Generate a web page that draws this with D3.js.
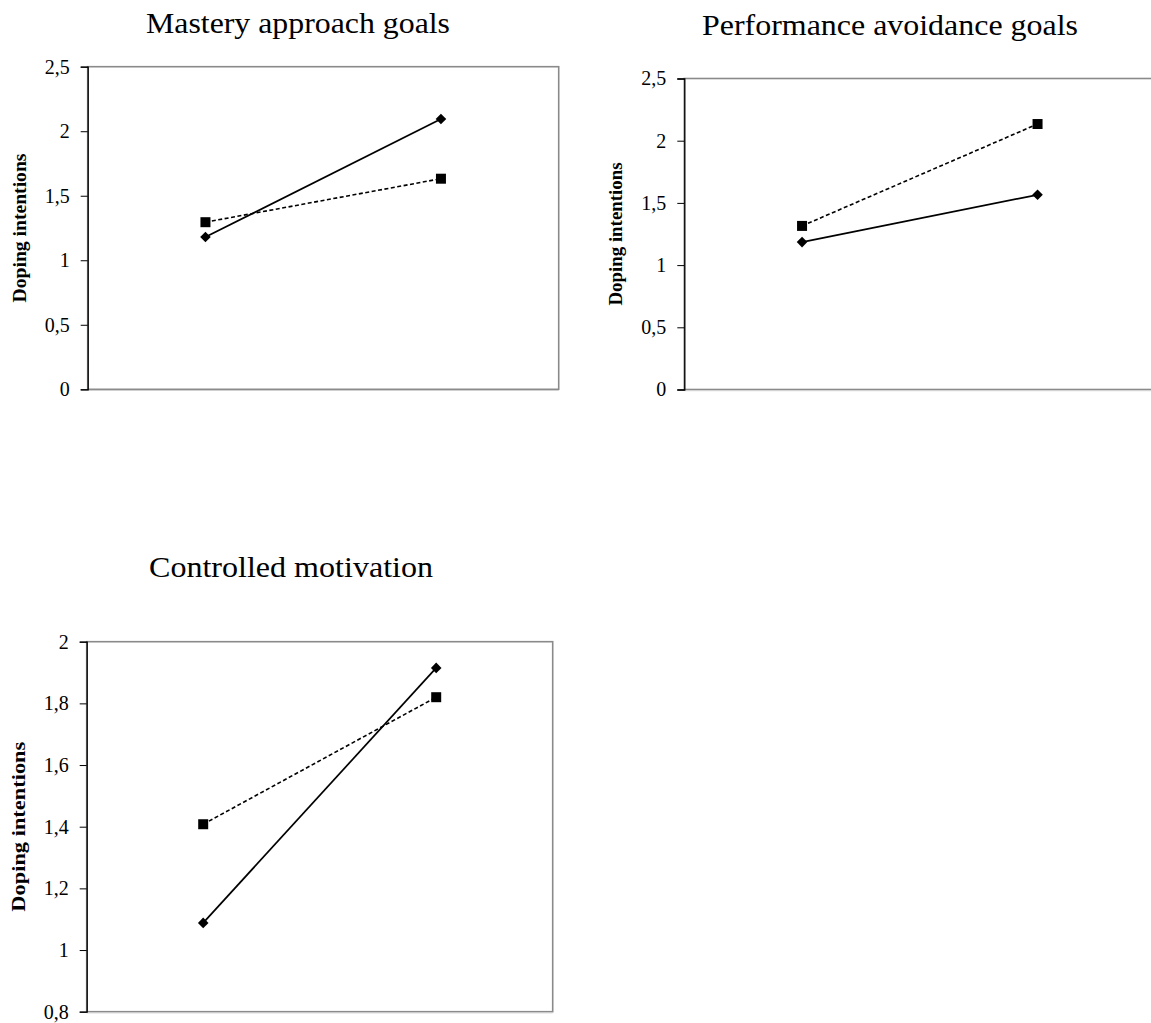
<!DOCTYPE html>
<html><head><meta charset="utf-8">
<script src="https://cdn.jsdelivr.net/npm/d3@7"></script>
<style>
body{margin:0;background:#fff;}
svg text{font-family:"Liberation Serif","Times New Roman",serif;fill:#000;}
</style></head>
<body><svg id="c" width="1151" height="1023"></svg>
<script>
// ---- data ----
const categories = ["Low", "High"];
const titles = ["Mastery approach goals", "Performance avoidance goals", "Controlled motivation"];
const yAxisLabel = "Doping intentions";
const solidSeries1 = [1.18, 2.095];   // diamonds, solid line
const dashedSeries1 = [1.295, 1.632]; // squares, dashed line
const solidSeries2 = [1.185, 1.565];
const dashedSeries2 = [1.315, 2.134];
const solidSeries3 = [1.088, 1.915];
const dashedSeries3 = [1.408, 1.82];
const yDomain1 = [0, 2.5], yTicks1 = [0, 0.5, 1, 1.5, 2, 2.5];
const yDomain2 = [0, 2.5], yTicks2 = [0, 0.5, 1, 1.5, 2, 2.5];
const yDomain3 = [0.8, 2], yTicks3 = [0.8, 1, 1.2, 1.4, 1.6, 1.8, 2];

// ---- layout ----
const panels = [
  {title:titles[0], solid:solidSeries1, dashed:dashedSeries1, domain:yDomain1, ticks:yTicks1,
   left:87.7, top:66.7, w:471, h:322.6, titleX:298, titleY:33, titleLen:304, yLabLen:149},
  {title:titles[1], solid:solidSeries2, dashed:dashedSeries2, domain:yDomain2, ticks:yTicks2,
   left:684.3, top:78.5, w:471, h:311, titleX:890, titleY:35, titleLen:376, yLabLen:143},
  {title:titles[2], solid:solidSeries3, dashed:dashedSeries3, domain:yDomain3, ticks:yTicks3,
   left:86.7, top:641.7, w:466, h:370, titleX:291, titleY:577, titleLen:284, yLabLen:170}
];

const loc = d3.formatLocale({decimal:",", thousands:".", grouping:[3], currency:["","€"]});
const fmt = loc.format("~g");
const svg = d3.select("#c");

panels.forEach(p => {
  const g = svg.append("g").attr("transform", `translate(${p.left},${p.top})`);
  const x = d3.scaleBand().domain(categories).range([0, p.w]);
  const y = d3.scaleLinear().domain(p.domain).range([p.h, 0]);

  // plot border
  g.append("rect").attr("x",0).attr("y",0).attr("width",p.w).attr("height",p.h)
    .attr("fill","none").attr("stroke","#8a8a8a").attr("stroke-width",1.6);
  g.append("line").attr("x1",0).attr("x2",p.w).attr("y1",p.h+1.2).attr("y2",p.h+1.2)
    .attr("stroke","#d0d0d0").attr("stroke-width",1);

  // y axis
  const ax = g.append("g").call(d3.axisLeft(y).tickValues(p.ticks).tickFormat(fmt).tickSize(7).tickPadding(11));
  ax.select(".domain").attr("stroke","#000").attr("stroke-width",1.3);
  ax.selectAll(".tick line").attr("stroke","#000");
  ax.selectAll("text").style("font-size","20px").style("font-family",'"Liberation Serif",serif').attr("fill","#1a1a1a");

  // axis title
  g.append("text")
    .attr("transform", `translate(${-62},${p.h/2}) rotate(-90)`)
    .attr("text-anchor","middle")
    .attr("textLength", p.yLabLen).attr("lengthAdjust","spacingAndGlyphs")
    .style("font-size","19px").style("font-weight","bold")
    .text(yAxisLabel);

  // panel title
  svg.append("text").attr("x", p.titleX).attr("y", p.titleY).attr("text-anchor","middle")
    .attr("textLength", p.titleLen).attr("lengthAdjust","spacingAndGlyphs")
    .style("font-size","30px").text(p.title);

  const cx = c => x(c) + x.bandwidth()/2;
  const line = d3.line().x((d,i) => cx(categories[i])).y(d => y(d));

  g.append("path").datum(p.dashed).attr("d", line).attr("fill","none")
    .attr("stroke","#000").attr("stroke-width",1.6).attr("stroke-dasharray","4,2.5");
  g.append("path").datum(p.solid).attr("d", line).attr("fill","none")
    .attr("stroke","#000").attr("stroke-width",1.7);

  g.selectAll(".sq").data(p.dashed).join("path")
    .attr("transform",(d,i)=>`translate(${cx(categories[i])},${y(d)})`)
    .attr("d", d3.symbol(d3.symbolSquare, 100)()).attr("fill","#000");
  g.selectAll(".dm").data(p.solid).join("path")
    .attr("transform",(d,i)=>`translate(${cx(categories[i])},${y(d)}) rotate(45)`)
    .attr("d", d3.symbol(d3.symbolSquare, 56)()).attr("fill","#000");
});
</script></body></html>
